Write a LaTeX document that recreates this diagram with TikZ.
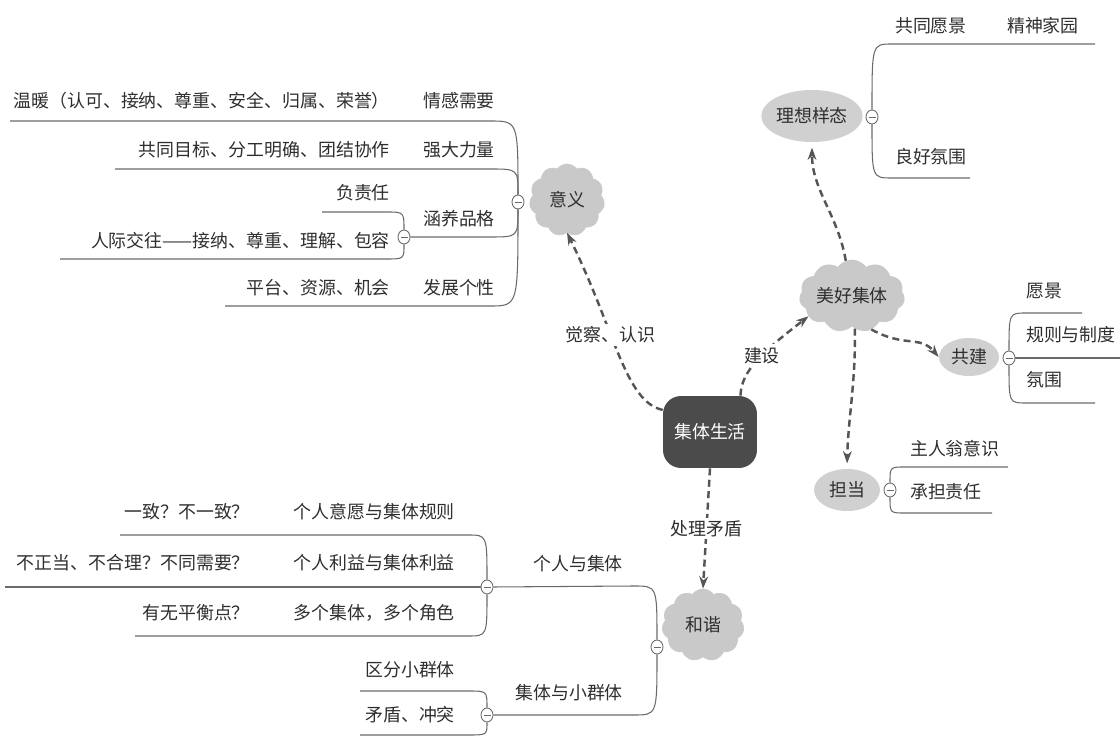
\documentclass[tikz,border=0pt]{standalone}
\usepackage{fontspec}
\setmainfont{Noto Sans CJK SC}
\usetikzlibrary{arrows.meta, shapes.geometric, shapes.symbols}
\definecolor{cloudgray}{HTML}{C9C9C9}
\definecolor{ovalgray}{HTML}{D0D0D0}
\definecolor{boxdark}{HTML}{4B4B4B}
\definecolor{inkgray}{HTML}{2E2E2E}
\definecolor{linegray}{HTML}{6A6A6A}
\definecolor{dashgray}{HTML}{555555}

\begin{document}
\begin{tikzpicture}[
    x=0.02cm, y=-0.02cm,
    every node/.style={font=\fontsize{10.2}{12}\selectfont, text=inkgray},
    leftitem/.style={inner sep=1pt, anchor=east},
    rightitem/.style={inner sep=1pt, anchor=west},
    puff/.style={cloud, cloud puffs=11, cloud puff arc=110, cloud ignores aspect,
                 fill=cloudgray, draw=cloudgray, inner sep=0pt},
    oval/.style={ellipse, fill=ovalgray, inner sep=0pt},
    fold/.style={ellipse, draw=linegray, fill=white, line width=0.5pt,
                 minimum width=0.24cm, minimum height=0.28cm, inner sep=0pt,
                 path picture={\draw[linegray, line width=0.5pt]
                   ([xshift=-0.07cm]path picture bounding box.center) --
                   ([xshift=0.07cm]path picture bounding box.center);}},
    branch/.style={draw=linegray, line width=0.6pt},
    link/.style={draw=dashgray, line width=1.4pt, dash pattern=on 4pt off 2.5pt,
                 -{Stealth[length=7pt, width=5pt]}},
    linklabel/.style={fill=white, inner sep=1.5pt},
  ]
  \useasboundingbox (0,0) rectangle (1120,736);

  % centre
  \node[fill=boxdark, rounded corners=0.36cm, minimum width=1.88cm,
        minimum height=1.44cm, text=white] (zh) at (710,432) {集体生活};

  % 意义
  \node[puff, minimum width=1.5cm, minimum height=1.44cm] (yy) at (567,200) {意义};
  \node[fold] (fyy) at (518,202) {};
  \node[fold] (fph) at (404,237) {};
  \node[leftitem] (qg)  at (497,101) {情感需要};
  \node[leftitem] (qgx) at (392,101) {温暖（认可、接纳、尊重、安全、归属、荣誉）};
  \node[leftitem] (ql)  at (497,150) {强大力量};
  \node[leftitem] (qlx) at (392,150) {共同目标、分工明确、团结协作};
  \node[leftitem] (ph)  at (497,219) {涵养品格};
  \node[leftitem] (zr)  at (392,193) {负责任};
  \node[leftitem] (rj)  at (392,241) {人际交往——接纳、尊重、理解、包容};
  \node[leftitem] (gx)  at (497,288) {发展个性};
  \node[leftitem] (gxx) at (392,288) {平台、资源、机会};
  \coordinate (a1) at (490,121); \coordinate (a1e) at (10,121);
  \coordinate (a2) at (490,169); \coordinate (a2e) at (115,169);
  \coordinate (a3) at (490,237);
  \coordinate (a4) at (490,306); \coordinate (a4e) at (225,306);
  \coordinate (b1) at (386,212); \coordinate (b1e) at (322,212);
  \coordinate (b2) at (386,259); \coordinate (b2e) at (60,259);
  \draw[branch] (fyy.north) .. controls (fyy.north |- a1) .. (a1) -- (a1e);
  \draw[branch] (fyy.north) .. controls (fyy.north |- a2) .. (a2) -- (a2e);
  \draw[branch] (fyy.south) .. controls (fyy.south |- a3) .. (a3) -- (fph.east);
  \draw[branch] (fyy.south) .. controls (fyy.south |- a4) .. (a4) -- (a4e);
  \draw[branch] (fph.north) .. controls (fph.north |- b1) .. (b1) -- (b1e);
  \draw[branch] (fph.south) .. controls (fph.south |- b2) .. (b2) -- (b2e);

  % 美好集体
  \node[puff, minimum width=2.1cm, minimum height=1.44cm] (mh) at (852,296) {美好集体};

  % 理想样态
  \node[oval, minimum width=1.84cm, minimum height=1.04cm] (lx) at (812,116) {理想样态};
  \node[fold] (flx) at (872,117) {};
  \node[rightitem] (gy)   at (893,26)  {共同愿景};
  \node[rightitem] (jsjy) at (1005,26) {精神家园};
  \node[rightitem] (lh)   at (893,157) {良好氛围};
  \coordinate (c1) at (892,44);  \coordinate (c1e) at (1095,44);
  \coordinate (c2) at (892,178); \coordinate (c2e) at (970,178);
  \draw[branch] (flx.north) .. controls (flx.north |- c1) .. (c1) -- (c1e);
  \draw[branch] (flx.south) .. controls (flx.south |- c2) .. (c2) -- (c2e);

  % 共建
  \node[oval, minimum width=1.2cm, minimum height=0.76cm] (gj) at (969,357) {共建};
  \node[fold] (fgj) at (1009,358) {};
  \node[rightitem] (yj) at (1024,291) {愿景};
  \node[rightitem] (gz) at (1024,335) {规则与制度};
  \node[rightitem] (fw) at (1024,380) {氛围};
  \coordinate (d1) at (1026,313); \coordinate (d1e) at (1082,313);
  \coordinate (d2e) at (1120,358);
  \coordinate (d3) at (1026,403); \coordinate (d3e) at (1095,403);
  \draw[branch] (fgj.north) .. controls (fgj.north |- d1) .. (d1) -- (d1e);
  \draw[branch] (fgj.east) -- (d2e);
  \draw[branch] (fgj.south) .. controls (fgj.south |- d3) .. (d3) -- (d3e);

  % 担当
  \node[oval, minimum width=1.32cm, minimum height=0.84cm] (dd) at (847,490) {担当};
  \node[fold] (fdd) at (890,490) {};
  \node[rightitem] (zry) at (908,449) {主人翁意识};
  \node[rightitem] (cd)  at (908,492) {承担责任};
  \coordinate (g1) at (905,467); \coordinate (g1e) at (1008,467);
  \coordinate (g2) at (905,513); \coordinate (g2e) at (992,513);
  \draw[branch] (fdd.north) .. controls (fdd.north |- g1) .. (g1) -- (g1e);
  \draw[branch] (fdd.south) .. controls (fdd.south |- g2) .. (g2) -- (g2e);

  % 和谐
  \node[puff, minimum width=1.64cm, minimum height=1.44cm] (hx) at (703,625) {和谐};
  \node[fold] (fhx) at (657,647) {};
  \node[fold] (fgr) at (487,587) {};
  \node[fold] (fqt) at (487,715) {};
  \node[leftitem] (grj) at (625,564) {个人与集体};
  \node[leftitem] (jq)  at (625,693) {集体与小群体};
  \node[leftitem] (yyg) at (457,512) {个人意愿与集体规则};
  \node[leftitem] (yz)  at (252,512) {一致？不一致？};
  \node[leftitem] (lyi) at (457,563) {个人利益与集体利益};
  \node[leftitem] (bzd) at (252,563) {不正当、不合理？不同需要？};
  \node[leftitem] (dgj) at (457,613) {多个集体，多个角色};
  \node[leftitem] (phd) at (252,613) {有无平衡点？};
  \node[leftitem] (qf)  at (457,670) {区分小群体};
  \node[leftitem] (md)  at (457,715) {矛盾、冲突};
  \coordinate (h1) at (634,586);
  \coordinate (h2) at (634,715);
  \coordinate (k1) at (468,535); \coordinate (k1e) at (120,535);
  \coordinate (k2e) at (5,587);
  \coordinate (k3) at (468,636); \coordinate (k3e) at (135,636);
  \coordinate (m1) at (468,691); \coordinate (m1e) at (360,691);
  \coordinate (m2) at (468,735); \coordinate (m2e) at (360,735);
  \draw[branch] (fhx.north) .. controls (fhx.north |- h1) .. (h1) -- (fgr.east);
  \draw[branch] (fhx.south) .. controls (fhx.south |- h2) .. (h2) -- (fqt.east);
  \draw[branch] (fgr.north) .. controls (fgr.north |- k1) .. (k1) -- (k1e);
  \draw[branch] (fgr.west) -- (k2e);
  \draw[branch] (fgr.south) .. controls (fgr.south |- k3) .. (k3) -- (k3e);
  \draw[branch] (fqt.north) .. controls (fqt.north |- m1) .. (m1) -- (m1e);
  \draw[branch] (fqt.south) .. controls (fqt.south |- m2) .. (m2) -- (m2e);

  % dashed links
  \draw[link] (zh.155) .. controls (625,402) and (615,330) .. (yy.south)
    node[linklabel, pos=0.6] {觉察、认识};
  \draw[link] (zh.50) .. controls (741,370) and (765,350) .. (mh.205)
    node[linklabel, pos=0.55] {建设};
  \draw[link, shorten >=3pt] (mh.100) .. controls (838,215) and (812,190) .. (lx.south);
  \draw[link] (mh.-60) .. controls (905,348) and (920,335) .. (gj.west);
  \draw[link, shorten >=3pt] (mh.-85) .. controls (856,380) and (848,420) .. (dd.north);
  \draw[link] (zh.south) -- (hx.north) node[linklabel, midway] {处理矛盾};
\end{tikzpicture}
\end{document}
